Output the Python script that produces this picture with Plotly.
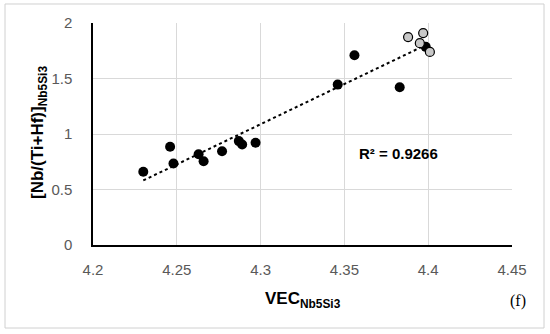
import numpy as np
import plotly.graph_objects as go

# Data
vec_black = [4.230, 4.246, 4.248, 4.263, 4.266, 4.277, 4.287, 4.289, 4.297, 4.346, 4.356, 4.383, 4.3985]
ratio_black = [0.66, 0.885, 0.735, 0.818, 0.755, 0.845, 0.936, 0.906, 0.921, 1.445, 1.709, 1.421, 1.785]
vec_gray = [4.388, 4.397, 4.395, 4.401]
ratio_gray = [1.873, 1.909, 1.818, 1.739]

x_ticks = [4.2, 4.25, 4.3, 4.35, 4.4, 4.45]
x_tick_labels = ["4.2", "4.25", "4.3", "4.35", "4.4", "4.45"]
y_ticks = [0, 0.5, 1, 1.5, 2]
y_tick_labels = ["0", "0.5", "1", "1.5", "2"]
r2_text = "R² = 0.9266"

all_x = np.array(vec_black + vec_gray)
all_y = np.array(ratio_black + ratio_gray)
slope, intercept = np.polyfit(all_x, all_y, 1)
tx = np.array([all_x.min(), all_x.max()])
ty = slope * tx + intercept

fig = go.Figure()
fig.add_trace(go.Scatter(x=tx, y=ty, mode="lines",
                         line=dict(color="black", width=2, dash="dot"),
                         hoverinfo="skip", showlegend=False))
fig.add_trace(go.Scatter(x=vec_black, y=ratio_black, mode="markers",
                         marker=dict(color="black", size=10, line=dict(width=0)),
                         showlegend=False))
fig.add_trace(go.Scatter(x=vec_gray, y=ratio_gray, mode="markers",
                         marker=dict(color="#c8c8c8", size=9, line=dict(color="black", width=1.2)),
                         showlegend=False))

font_ticks = dict(family="Liberation Sans, Arial, sans-serif", size=15, color="#595959")

fig.update_layout(
    width=550, height=334,
    margin=dict(l=93, r=38, t=23, b=89),
    paper_bgcolor="white", plot_bgcolor="white",
    showlegend=False,
    xaxis=dict(range=[4.2, 4.45], tickvals=x_ticks, ticktext=x_tick_labels,
               showgrid=True, gridcolor="#d9d9d9", gridwidth=1,
               showline=True, linecolor="black", linewidth=1.5,
               zeroline=False, ticks="", tickfont=font_ticks, ticklabelstandoff=10),
    yaxis=dict(range=[0, 2], tickvals=y_ticks, ticktext=y_tick_labels,
               showgrid=True, gridcolor="#d9d9d9", gridwidth=1,
               showline=True, linecolor="black", linewidth=1.5,
               zeroline=False, ticks="", tickfont=font_ticks, ticklabelstandoff=16),
)

# outer border
fig.add_shape(type="rect", xref="paper", yref="paper",
              x0=-0.21, x1=1.0764, y0=-0.3739, y1=1.0856,
              line=dict(color="#d0d0d0", width=1), fillcolor="rgba(0,0,0,0)", layer="below")

title_font = dict(family="Liberation Sans, Arial, sans-serif", size=17, color="black")
fig.add_annotation(text="<b>VEC<sub>Nb5Si3</sub></b>", xref="paper", yref="paper",
                   x=(303 - 93) / 419, y=(245 - 300) / 222, showarrow=False,
                   font=title_font, xanchor="center", yanchor="middle")
fig.add_annotation(text="<b>[Nb/(Ti+Hf)]<sub>Nb5Si3</sub></b>", xref="paper", yref="paper",
                   x=(39 - 93) / 419, y=(245 - 132) / 222, showarrow=False,
                   font=title_font, textangle=-90, xanchor="center", yanchor="middle")
fig.add_annotation(text="(f)", xref="paper", yref="paper",
                   x=(518 - 93) / 419, y=(245 - 301) / 222, showarrow=False,
                   font=dict(family="Liberation Serif, Times New Roman, serif", size=16, color="black"),
                   xanchor="center", yanchor="middle")
fig.add_annotation(text="<b>" + r2_text + "</b>", xref="paper", yref="paper",
                   x=(398 - 93) / 419, y=(245 - 153) / 222, showarrow=False,
                   font=dict(family="Liberation Sans, Arial, sans-serif", size=15, color="black"),
                   xanchor="center", yanchor="middle")

fig.write_html("out.html", config={"displayModeBar": False},
               post_script="document.body.style.margin='0';document.body.style.overflow='hidden';")
